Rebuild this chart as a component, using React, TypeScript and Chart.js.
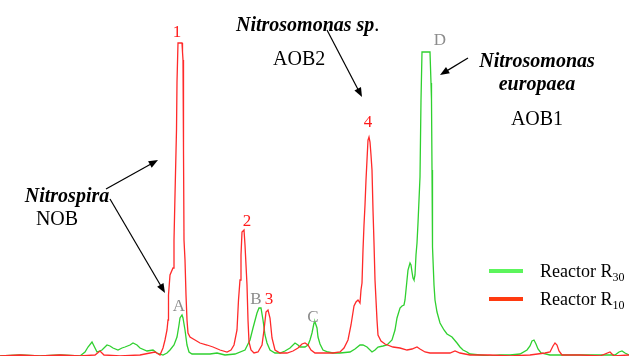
import React, { useEffect, useRef } from "react";
import { Chart, registerables } from "chart.js";

Chart.register(...registerables);

// Densitometric DGGE profile: migration position (a.u.) and band intensity (a.u.)
const r30Position = [0, 20, 40, 60, 80, 85, 88, 92, 95, 97, 102, 107, 110, 113, 118, 122, 125, 130, 133, 137, 140, 147, 153, 157, 163, 167, 170, 174, 177, 179, 180, 182, 183, 185, 187, 189, 192, 200, 210, 217, 225, 235, 245, 250, 253, 257, 259, 261, 263, 265, 267, 270, 275, 280, 285, 290, 295, 298, 300, 305, 308, 310, 312, 314, 315, 317, 318, 320, 323, 328, 333, 340, 350, 355, 360, 363, 367, 372, 375, 378, 383, 387, 392, 395, 397, 400, 402, 404, 405, 406, 407, 408, 410, 411, 412, 413, 414, 415, 416, 417, 418, 419, 420, 421, 422, 430, 431, 431.5, 432, 432.5, 434, 435, 437, 440, 444, 447, 452, 457, 460, 463, 467, 470, 480, 490, 500, 510, 520, 527, 530, 532, 534, 536, 538, 541, 550, 580, 600, 615, 619, 622, 625, 629];
const r30Intensity = [-1, 0, -1, 0, -1, 3, 8, 13, 7, 3, 5, 10, 9, 7, 5, 7, 8, 10, 12, 10, 7, 4, 5, 2, 0, 2, 5, 10, 18, 30, 37, 40, 37, 25, 10, 3, 1, 1, 1, 2, 0, 1, 5, 15, 27, 42, 47, 47, 35, 20, 12, 5, 2, 2, 4, 7, 12, 10, 8, 8, 10, 15, 22, 32, 33, 27, 18, 11, 5, 3, 2, 2, 3, 6, 10, 10, 8, 3, 5, 8, 9, 10, 15, 25, 37, 47, 49, 50, 55, 65, 75, 85, 92, 90, 83, 77, 75, 80, 100, 112, 132, 155, 178, 255, 303, 303, 272, 255, 185, 108, 70, 55, 43, 32, 25, 21, 18, 12, 8, 5, 3, 1, 0, -1, 0, 0, 1, 5, 9, 14, 15, 11, 6, 2, 0, 0, 0, 0, 3, 4, 2, 0];

const r10Position = [0, 20, 40, 60, 80, 95, 100, 104, 120, 140, 155, 160, 163, 165, 167, 168, 168.5, 170, 173, 174, 175, 176.5, 177, 178, 182, 182.5, 183, 183.5, 184, 185, 186, 187, 188, 190, 195, 200, 207, 213, 220, 227, 231, 234, 237, 238.5, 240, 241, 242, 244, 245, 246, 247, 248, 249, 251, 254, 258, 262, 264, 266, 268, 270, 272, 275, 280, 287, 293, 298, 302, 305, 308, 311, 315, 333, 340, 344, 348, 351, 354, 356, 358, 360, 361, 362, 363, 364, 365, 366, 367, 368, 369, 370, 371, 372, 373, 374, 375, 376, 377, 378, 381, 385, 393, 400, 407, 412, 417, 420, 425, 430, 450, 455, 460, 470, 490, 510, 530, 545, 550, 553, 555, 557, 559, 562, 580, 600, 610, 614, 629];
const r10Intensity = [-1, 0, -1, 0, -1, 0, 4, 0, -1, 0, 3, 0, 7, 15, 25, 35, 60, 80, 87, 115, 160, 225, 273, 312, 312, 303, 295, 205, 115, 95, 60, 35, 22, 18, 15, 12, 10, 8, 5, 3, 5, 10, 25, 55, 75, 100, 123, 125, 110, 90, 70, 35, 13, 5, 2, 3, 10, 25, 43, 45, 37, 17, 5, 2, 2, 4, 7, 11, 12, 10, 5, 2, 2, 3, 7, 15, 30, 49, 53, 55, 52, 65, 72, 105, 130, 150, 175, 195, 215, 218, 213, 200, 185, 145, 112, 75, 55, 35, 20, 14, 11, 8, 7, 5, 6, 8, 6, 3, 2, 2, 4, 2, 0, 0, -1, 0, 2, 3, 9, 12, 10, 4, 0, 0, -1, 3, -1, 0];

const seriesNames = ["Reactor R", "Reactor R"];
const seriesSubscripts = ["30", "10"];

// Band labels: text, position, intensity where the label baseline sits
const bandLabels = ["1", "2", "3", "4", "A", "B", "C", "D"];
const bandLabelX = [177, 247, 269, 368, 179, 256, 313, 440];
const bandLabelY = [318, 129, 51, 228, 44, 51, 33, 310];
const bandLabelIsR10 = [true, true, true, true, false, false, false, false];

const RED = "#ff2a2a";
const GREEN = "#2fd02f";

const annotationPlugin = {
  id: "dggeAnnotations",
  afterDatasetsDraw(chart: any) {
    const { ctx, scales } = chart;
    const xs = scales.x;
    const ys = scales.y;
    const px = (v: number) => xs.getPixelForValue(v);
    const py = (v: number) => ys.getPixelForValue(v);
    ctx.save();
    ctx.textBaseline = "alphabetic";

    // band labels
    ctx.textAlign = "center";
    ctx.font = "17px 'Liberation Serif', serif";
    bandLabels.forEach((t, i) => {
      ctx.fillStyle = bandLabelIsR10[i] ? "#ff1a1a" : "#8c8c8c";
      ctx.fillText(t, px(bandLabelX[i]), py(bandLabelY[i]));
    });

    const bi = "italic bold 20px 'Liberation Serif', serif";
    const rg = "20px 'Liberation Serif', serif";
    ctx.fillStyle = "#000";
    // Nitrosomonas sp. / AOB2
    ctx.textAlign = "left";
    ctx.font = bi;
    ctx.fillText("Nitrosomonas sp", px(236), py(324));
    const w = ctx.measureText("Nitrosomonas sp").width;
    ctx.font = rg;
    ctx.fillText(".", px(236) + w, py(324));
    ctx.fillText("AOB2", px(273), py(290));
    // Nitrosomonas europaea / AOB1
    ctx.textAlign = "center";
    ctx.font = bi;
    ctx.fillText("Nitrosomonas", px(537), py(288));
    ctx.fillText("europaea", px(537), py(265));
    ctx.font = rg;
    ctx.fillText("AOB1", px(537), py(230));
    // Nitrospira / NOB
    ctx.font = bi;
    ctx.fillText("Nitrospira", px(67), py(153));
    ctx.font = rg;
    ctx.fillText("NOB", px(57), py(130));

    const arrow = (x1: number, y1: number, x2: number, y2: number) => {
      const X1 = px(x1), Y1 = py(y1), X2 = px(x2), Y2 = py(y2);
      const a = Math.atan2(Y2 - Y1, X2 - X1);
      const L = 10, H = 0.38;
      ctx.strokeStyle = "#000";
      ctx.lineWidth = 1.2;
      ctx.beginPath();
      ctx.moveTo(X1, Y1);
      ctx.lineTo(X2 - Math.cos(a) * 6, Y2 - Math.sin(a) * 6);
      ctx.stroke();
      ctx.fillStyle = "#000";
      ctx.beginPath();
      ctx.moveTo(X2, Y2);
      ctx.lineTo(X2 - L * Math.cos(a - H), Y2 - L * Math.sin(a - H));
      ctx.lineTo(X2 - L * Math.cos(a + H), Y2 - L * Math.sin(a + H));
      ctx.closePath();
      ctx.fill();
    };
    arrow(106, 166, 158, 195);
    arrow(110, 156, 165, 62);
    arrow(327, 325, 362, 258);
    arrow(468, 297, 440, 280);

    // legend
    const colors = ["#5cf55c", "#ff3a10"];
    const legendY = [84, 56];
    seriesNames.forEach((name, i) => {
      const y = py(legendY[i]);
      ctx.strokeStyle = colors[i];
      ctx.lineWidth = 4;
      ctx.beginPath();
      ctx.moveTo(px(489), y);
      ctx.lineTo(px(523), y);
      ctx.stroke();
      ctx.fillStyle = "#000";
      ctx.textAlign = "left";
      ctx.font = "18px 'Liberation Serif', serif";
      ctx.fillText(name, px(540), y + 6);
      const nw = ctx.measureText(name).width;
      ctx.font = "12px 'Liberation Serif', serif";
      ctx.fillText(seriesSubscripts[i], px(540) + nw, y + 10);
    });
    ctx.restore();
  },
};

export default function App() {
  const ref = useRef<HTMLCanvasElement>(null);
  useEffect(() => {
    if (!ref.current) return;
    const chart = new Chart(ref.current, {
      type: "line",
      data: {
        datasets: [
          {
            label: seriesNames[1] + seriesSubscripts[1],
            data: r10Position.map((x, i) => ({ x, y: r10Intensity[i] })),
            borderColor: RED,
            borderWidth: 1.3,
            pointRadius: 0,
            tension: 0,
            fill: false,
          },
          {
            label: seriesNames[0] + seriesSubscripts[0],
            data: r30Position.map((x, i) => ({ x, y: r30Intensity[i] })),
            borderColor: GREEN,
            borderWidth: 1.3,
            pointRadius: 0,
            tension: 0,
            fill: false,
          },
        ],
      },
      options: {
        animation: false,
        responsive: false,
        maintainAspectRatio: false,
        layout: { padding: 0 },
        plugins: { legend: { display: false }, tooltip: { enabled: false } },
        scales: {
          x: { type: "linear", min: 0, max: 629, display: false },
          y: { type: "linear", min: -1, max: 355, display: false },
        },
      },
      plugins: [annotationPlugin],
    });
    return () => chart.destroy();
  }, []);
  return (
    <div style={{ position: "absolute", left: 0, top: 0, width: 629, height: 356, background: "#fff" }}>
      <canvas ref={ref} width={629} height={356} style={{ display: "block" }} />
    </div>
  );
}
